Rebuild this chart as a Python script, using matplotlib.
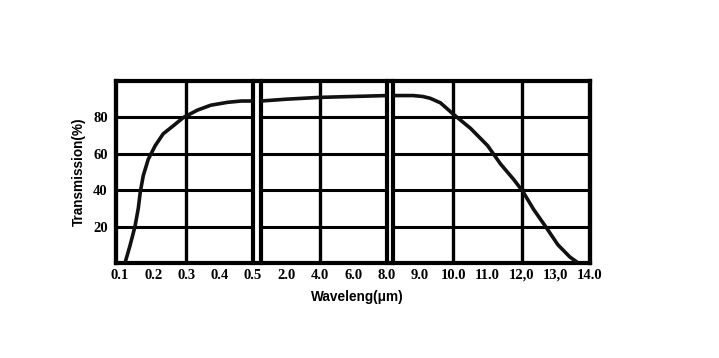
import matplotlib.pyplot as plt

# ---- data -------------------------------------------------------------
# UV / visible part (um, %)
uv_wl = [0.115, 0.130, 0.145, 0.155, 0.161, 0.170, 0.185, 0.206, 0.230,
         0.261, 0.291, 0.333, 0.373, 0.424, 0.465, 0.500]
uv_tr = [0.0, 9.5, 20.0, 30.0, 39.0, 48.0, 57.0, 64.5, 71.0,
         75.5, 80.0, 84.0, 86.7, 88.3, 89.0, 89.0]

# near / mid infrared part
ir_wl = [0.5, 2.0, 4.0, 6.0, 8.0]
ir_tr = [89.0, 90.0, 91.0, 91.5, 92.0]

# far infrared part
fir_wl = [8.24, 8.82, 9.10, 9.32, 9.62, 10.0, 10.5, 11.0, 11.38, 11.76,
          12.03, 12.35, 12.7, 13.06, 13.41, 13.62]
fir_tr = [92.0, 92.0, 91.5, 90.5, 88.0, 81.7, 74.0, 64.5, 54.4, 46.0,
          39.4, 29.4, 20.0, 10.0, 3.3, 0.5]

y_ticks = [20, 40, 60, 80]

p1_ticks = [0.1, 0.2, 0.3, 0.4, 0.5]
p1_labels = ['0.1', '0.2', '0.3', '0.4', '0.5']
p2_ticks = [2.0, 4.0, 6.0, 8.0]
p2_labels = ['2.0', '4.0', '6.0', '8.0']
p3_ticks = [9.0, 10.0, 11.0, 12.0, 13.0, 14.0]
p3_labels = ['9.0', '10.0', '11.0', '12,0', '13,0', '14.0']

p1_grid = [0.3]
p2_grid = [4.0]
p3_grid = [10.0, 12.0]

p1_stubs = [0.2, 0.4]
p2_stubs = [2.0, 6.0]
p3_stubs = [9.0, 11.0, 13.0]

# ---- figure --------------------------------------------------------------
W, H = 719, 358
fig = plt.figure(figsize=(W / 100, H / 100), dpi=100)

tick_font = dict(family=['Liberation Serif', 'DejaVu Serif'], weight='bold', size=10.5)
label_font = dict(family=['Liberation Sans', 'DejaVu Sans'], weight='bold', size=9.8)

top_px, bot_px = 81, 263


def rect(x0, x1):
    return [x0 / W, (H - bot_px) / H, (x1 - x0) / W, (bot_px - top_px) / H]


# outer frame (continuous top / bottom border)
bg = fig.add_axes(rect(116, 590))
bg.set_xticks([])
bg.set_yticks([])
for s in bg.spines.values():
    s.set_linewidth(3.0)


def panel(x0, x1, xlim, wl, tr, ticks, labels, grid, stubs, first=False):
    ax = fig.add_axes(rect(x0, x1))
    ax.set_facecolor('none')
    ax.set_xlim(*xlim)
    ax.set_ylim(0, 100)
    ax.spines['top'].set_visible(False)
    ax.spines['bottom'].set_visible(False)
    ax.spines['left'].set_linewidth(3.0)
    ax.spines['right'].set_linewidth(3.0)

    for y in y_ticks:
        ax.axhline(y, color='black', lw=2.2, zorder=1)
    for x in grid:
        ax.axvline(x, color='black', lw=2.4, zorder=1)

    ax.plot(wl, tr, color='#111111', lw=2.6, zorder=3, clip_on=True,
            solid_capstyle='round', solid_joinstyle='round')

    ax.set_xticks(ticks)
    ax.set_xticklabels(labels, **tick_font)
    ax.set_xticks(stubs, minor=True)
    ax.tick_params(axis='x', which='major', length=0, pad=4)
    ax.tick_params(axis='x', which='minor', direction='in', length=8.5,
                   width=2.6, color='black')

    if first:
        ax.set_yticks(y_ticks)
        ax.set_yticklabels([str(v) for v in y_ticks], **tick_font)
        ax.tick_params(axis='y', length=0, pad=6)
    else:
        ax.set_yticks([])
    return ax


ax1 = panel(116, 253, (0.088, 0.5), uv_wl, uv_tr, p1_ticks, p1_labels,
            p1_grid, p1_stubs, first=True)
ax2 = panel(261, 387, (0.5, 8.0), ir_wl, ir_tr, p2_ticks, p2_labels,
            p2_grid, p2_stubs)
ax3 = panel(393, 590, (8.23, 14.0), fir_wl, fir_tr, p3_ticks, p3_labels,
            p3_grid, p3_stubs)

ax1.set_ylabel('Transmission(%)', labelpad=5, **label_font)
fig.text(357 / W, 1 - 297 / H, 'Waveleng(\u03bcm)', ha='center', va='center',
         **label_font)

fig.savefig('out.png', dpi=100, facecolor='white')
